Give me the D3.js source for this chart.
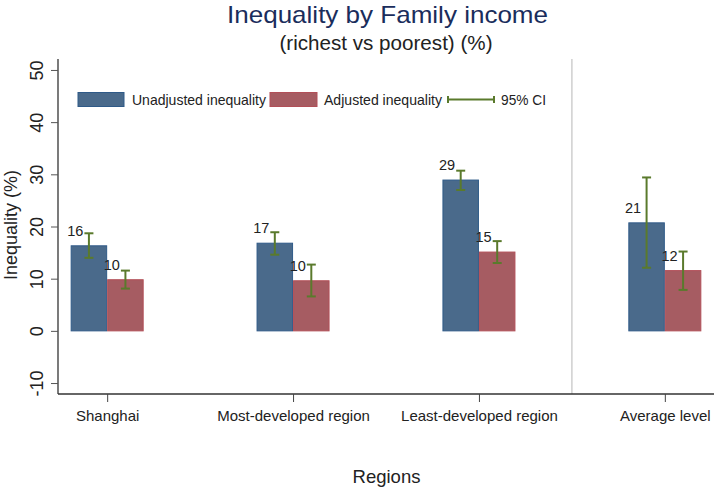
<!DOCTYPE html>
<html><head><meta charset="utf-8">
<script src="https://cdn.jsdelivr.net/npm/d3@7"></script>
<style>body{margin:0;background:#fff}svg{display:block;font-family:"Liberation Sans",Arial,sans-serif}</style>
</head><body><svg id="c" width="714" height="487"></svg>
<script>
const categories = ["Shanghai","Most-developed region","Least-developed region","Average level"];
const unadjusted = [16.3, 16.8, 28.9, 20.7];
const unadjLow = [14.0, 14.6, 27.0, 12.1];
const unadjHigh = [18.7, 18.9, 30.7, 29.4];
const adjusted = [9.8, 9.6, 15.1, 11.55];
const adjLow = [8.1, 6.6, 13.0, 7.85];
const adjHigh = [11.55, 12.7, 17.2, 15.2];
const yTicks = [-10, 0, 10, 20, 30, 40, 50];
const seriesNames = ["Unadjusted inequality","Adjusted inequality","95% CI"];

const svg = d3.select("#c");
const L = 58, R = 714, T = 59, B = 394;
const y = d3.scaleLinear().domain([-12.1, 52.1]).range([B, T]);
const x = d3.scalePoint().domain(categories).range([L, R]).padding(0.2645);
const bw = 36.5;
const blue = "#4a6a8b", blueS = "#2f5a88", red = "#a65c62", redS = "#b24f58", green = "#5a7a2c";

// titles
svg.append("text").attr("x", 387.5).attr("y", 23).attr("text-anchor","middle")
  .attr("font-size", 24).attr("fill", "#1a2d5c")
  .attr("textLength", 321).attr("lengthAdjust", "spacingAndGlyphs")
  .text("Inequality by Family income");
svg.append("text").attr("x", 386).attr("y", 50).attr("text-anchor","middle")
  .attr("font-size", 19.5).attr("fill", "#222")
  .attr("textLength", 213).attr("lengthAdjust", "spacingAndGlyphs")
  .text("(richest vs poorest) (%)");

// separator line
const sepX = (x(categories[2]) + x(categories[3])) / 2;
svg.append("line").attr("x1", sepX).attr("x2", sepX).attr("y1", T).attr("y2", B)
  .attr("stroke", "#cfcfcf").attr("stroke-width", 1.5);

// y axis
const yAxis = d3.axisLeft(y).tickValues(yTicks).tickSize(7).tickFormat(d => String(d));
const gy = svg.append("g").attr("transform", `translate(${L},0)`).call(yAxis);
gy.select(".domain").attr("stroke","#333").attr("stroke-width",1.3).attr("d", `M0,${T}V${B}`);
gy.selectAll(".tick line").attr("stroke","#555");
gy.selectAll(".tick text").attr("font-size", 18).attr("fill","#222")
  .attr("text-anchor","middle")
  .attr("transform", "translate(-21,0) rotate(-90)").attr("x",0).attr("y",0).attr("dy","0.35em");

// x axis
const xAxis = d3.axisBottom(x).tickSize(8);
const gx = svg.append("g").attr("transform", `translate(0,${B})`).call(xAxis);
gx.select(".domain").attr("stroke","#333").attr("stroke-width",1.3).attr("d", `M${L},0H${R}`);
gx.selectAll(".tick line").attr("stroke","#444");
gx.selectAll(".tick text").attr("font-size", 15).attr("fill","#222").attr("y", 27).attr("dy", 0);

// axis titles
svg.append("text").attr("transform", `translate(17,225) rotate(-90)`).attr("text-anchor","middle")
  .attr("font-size", 18).attr("fill","#222").text("Inequality (%)");
svg.append("text").attr("x", 386.5).attr("y", 483).attr("text-anchor","middle")
  .attr("font-size", 18.5).attr("fill","#222").text("Regions");

// bars
const groups = [
  {vals: unadjusted, lo: unadjLow, hi: unadjHigh, fill: blue, stroke: blueS, off: -bw/2},
  {vals: adjusted, lo: adjLow, hi: adjHigh, fill: red, stroke: redS, off: bw/2}
];
groups.forEach(g => {
  svg.append("g").selectAll("rect").data(categories).join("rect")
    .attr("x", (c) => x(c) + g.off - bw/2 + 0.5)
    .attr("width", bw - 1)
    .attr("y", (c,i) => y(g.vals[i]))
    .attr("height", (c,i) => y(0) - y(g.vals[i]))
    .attr("fill", g.fill).attr("stroke", g.stroke).attr("stroke-width", 1);
});
groups.forEach(g => {
  const eg = svg.append("g").attr("stroke", green).attr("stroke-width", 2).attr("fill","none");
  categories.forEach((c,i) => {
    const cx = x(c) + g.off;
    eg.append("line").attr("x1",cx).attr("x2",cx).attr("y1",y(g.lo[i])).attr("y2",y(g.hi[i]));
    eg.append("line").attr("x1",cx-4.5).attr("x2",cx+4.5).attr("y1",y(g.lo[i])).attr("y2",y(g.lo[i]));
    eg.append("line").attr("x1",cx-4.5).attr("x2",cx+4.5).attr("y1",y(g.hi[i])).attr("y2",y(g.hi[i]));
  });
  svg.append("g").selectAll("text").data(categories).join("text")
    .attr("x", (c) => x(c) + g.off - 5.5).attr("y", (c,i) => y(g.vals[i]) - 10)
    .attr("text-anchor","end").attr("font-size", 14.5).attr("fill","#222")
    .text((c,i) => Math.round(g.vals[i]));
});

// legend
const lg = svg.append("g");
lg.append("rect").attr("x",78).attr("y",92.5).attr("width",46).attr("height",14).attr("fill",blue).attr("stroke",blueS);
lg.append("text").attr("x",132).attr("y",104.5).attr("font-size",14.5).attr("fill","#222")
  .attr("textLength",134).attr("lengthAdjust","spacingAndGlyphs").text(seriesNames[0]);
lg.append("rect").attr("x",270).attr("y",92.5).attr("width",47).attr("height",14).attr("fill",red).attr("stroke",redS);
lg.append("text").attr("x",324).attr("y",104.5).attr("font-size",14.5).attr("fill","#222")
  .attr("textLength",118).attr("lengthAdjust","spacingAndGlyphs").text(seriesNames[1]);
const cg = lg.append("g").attr("stroke",green).attr("stroke-width",2);
cg.append("line").attr("x1",448).attr("x2",494).attr("y1",99.5).attr("y2",99.5);
cg.append("line").attr("x1",448).attr("x2",448).attr("y1",96).attr("y2",103);
cg.append("line").attr("x1",494).attr("x2",494).attr("y1",96).attr("y2",103);
lg.append("text").attr("x",501).attr("y",104.5).attr("font-size",14.5).attr("fill","#222")
  .attr("textLength",45).attr("lengthAdjust","spacingAndGlyphs").text(seriesNames[2]);
</script></body></html>
